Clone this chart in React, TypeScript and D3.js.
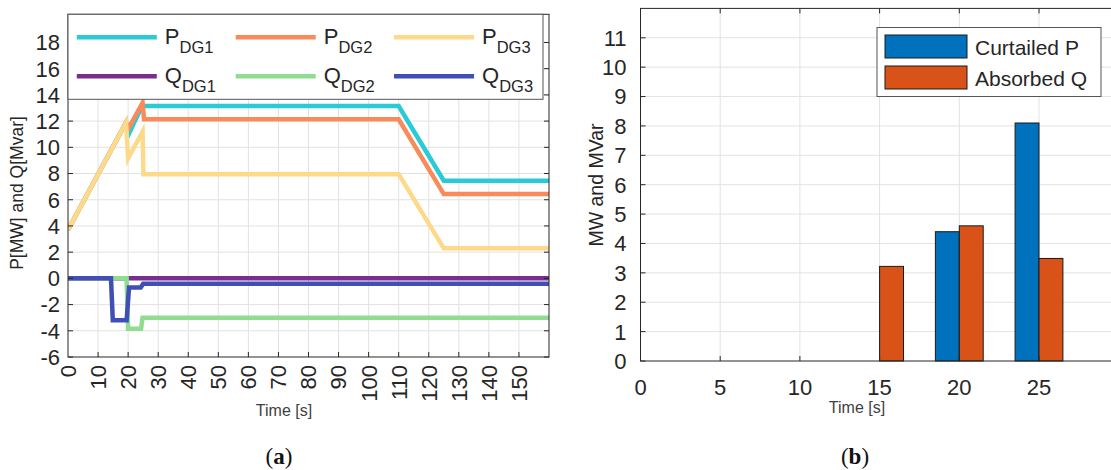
import React from 'react';
import * as d3 from 'd3';

// ---- data (a): DG power outputs over time ----
const tP1 = [0, 19.3, 20, 24.6, 110, 125, 160];
const pDG1 = [3.7, 11.9, 10.9, 13.15, 13.15, 7.45, 7.45];
const tP2 = [0, 19.3, 20, 24.8, 25.3, 110, 125, 160];
const pDG2 = [3.7, 11.9, 11.4, 13.4, 12.14, 12.14, 6.43, 6.43];
const tP3 = [0, 19.3, 20, 24.8, 25.1, 110, 125, 160];
const pDG3 = [3.7, 11.9, 9.15, 11.2, 7.95, 7.95, 2.29, 2.29];
const tQ1 = [0, 160];
const qDG1 = [0, 0];
const tQ2 = [0, 19.5, 20, 24.3, 24.8, 160];
const qDG2 = [0, 0, -3.85, -3.85, -3.0, -3.0];
const tQ3 = [0, 14.3, 14.9, 19.5, 20.3, 24.2, 25, 160];
const qDG3 = [0, 0, -3.2, -3.2, -0.7, -0.7, -0.42, -0.42];

const seriesNames = ['P', 'P', 'P', 'Q', 'Q', 'Q'];
const seriesSubs = ['DG1', 'DG2', 'DG3', 'DG1', 'DG2', 'DG3'];
const seriesColors = ['#29CCD6', '#F98B5A', '#FDDA8A', '#7B2D8E', '#90DC91', '#3F4FB5'];

const xTicksA = d3.range(0, 151, 10);
const yTicksA = d3.range(-6, 19, 2);

// ---- data (b): curtailed P / absorbed Q ----
const barTimes = [15, 20, 25];
const curtailedP = [0, 4.4, 8.1];
const absorbedQ = [3.22, 4.6, 3.49];
const barLabels = ['Curtailed P', 'Absorbed Q'];
const barColors = ['#0072BD', '#D95319'];
const xTicksB = [0, 5, 10, 15, 20, 25];
const yTicksB = d3.range(0, 12, 1);

const FONT = '"Liberation Sans", Arial, sans-serif';
const SERIF = '"Liberation Serif", "DejaVu Serif", serif';
const INK = '#262626';
const GRID = '#e2e2e2';

export default function App() {
  // panel (a)
  const xA = d3.scaleLinear().domain([0, 160]).range([68, 549]);
  const yA = d3.scaleLinear().domain([-6, 20.15]).range([357, 14.3]);
  const line = d3.line<[number, number]>().x(d => xA(d[0])).y(d => yA(d[1]));
  const series = [
    [tP1, pDG1], [tP2, pDG2], [tP3, pDG3], [tQ1, qDG1], [tQ2, qDG2], [tQ3, qDG3],
  ].map(([t, v]) => t.map((tt, i) => [tt, v[i]] as [number, number]));

  // panel (b)
  const xB = d3.scaleLinear().domain([0, 30]).range([640.5, 1118.7]);
  const yB = d3.scaleLinear().domain([0, 12]).range([361, 8.4]);
  const barW = 1.5;
  const barSets = [curtailedP, absorbedQ];

  const legCols = [76.8, 235.7, 394];
  const legRows = [37.3, 76.3];

  return (
    <svg width={1111} height={470} style={{ position: 'absolute', left: 0, top: 0, background: '#fff' }} fontFamily={FONT}>
      <defs>
        <clipPath id="clipA">
          <rect x={xA(0)} y={yA(20.15)} width={xA(160) - xA(0)} height={yA(-6) - yA(20.15)} />
        </clipPath>
      </defs>

      {/* ===== panel (a) ===== */}
      <rect x={xA(0)} y={yA(20.15)} width={xA(160) - xA(0)} height={yA(-6) - yA(20.15)} fill="#fff" />
      {xTicksA.slice(1).map(t => (
        <line key={'gx' + t} x1={xA(t)} x2={xA(t)} y1={yA(-6)} y2={yA(20.15)} stroke={GRID} />
      ))}
      {yTicksA.slice(1).map(t => (
        <line key={'gy' + t} x1={xA(0)} x2={xA(160)} y1={yA(t)} y2={yA(t)} stroke={GRID} />
      ))}
      <g clipPath="url(#clipA)">
        {series.map((d, i) => (
          <path key={'s' + i} d={line(d) || ''} fill="none" stroke={seriesColors[i]} strokeWidth={4.5} strokeLinejoin="miter" />
        ))}
      </g>
      {/* ticks */}
      {xTicksA.slice(1).map(t => (
        <line key={'tx' + t} x1={xA(t)} x2={xA(t)} y1={yA(-6)} y2={yA(-6) - 5} stroke={INK} />
      ))}
      {yTicksA.map(t => (
        <g key={'ty' + t}>
          <line x1={xA(0)} x2={xA(0) + 5} y1={yA(t)} y2={yA(t)} stroke={INK} />
          <line x1={xA(160)} x2={xA(160) - 5} y1={yA(t)} y2={yA(t)} stroke={INK} />
        </g>
      ))}
      <rect x={xA(0)} y={yA(20.15)} width={xA(160) - xA(0)} height={yA(-6) - yA(20.15)} fill="none" stroke={INK} strokeWidth={1} />
      {/* tick labels */}
      {yTicksA.map(t => (
        <text key={'ly' + t} x={xA(0) - 8} y={yA(t)} dy="0.36em" textAnchor="end" fontSize={22} fill={INK}>{t}</text>
      ))}
      {xTicksA.map(t => (
        <text key={'lx' + t} transform={`translate(${xA(t)},${yA(-6) + 8}) rotate(-90)`} dy="0.36em" textAnchor="end" fontSize={22} fill={INK}>{t}</text>
      ))}
      <text x={284} y={416} textAnchor="middle" fontSize={16} fill="#404040">Time [s]</text>
      <text transform="translate(23,193) rotate(-90)" textAnchor="middle" fontSize={17.5} fill={INK}>P[MW] and Q[Mvar]</text>

      {/* legend (a) */}
      <rect x={68} y={14.3} width={475} height={85} fill="#fff" stroke="#555" strokeWidth={1} />
      {seriesColors.map((c, i) => {
        const col = i % 3;
        const row = Math.floor(i / 3);
        const lx = legCols[col];
        const ly = legRows[row];
        return (
          <g key={'leg' + i}>
            <line x1={lx} x2={lx + 80} y1={ly} y2={ly} stroke={c} strokeWidth={4.5} />
            <text x={lx + 88} y={ly + 6.5} fontSize={22} fill={INK}>
              {seriesNames[i]}
              <tspan dy={9} fontSize={16.5}>{seriesSubs[i]}</tspan>
            </text>
          </g>
        );
      })}
      <text x={279} y={464} textAnchor="middle" fontSize={23} fontFamily={SERIF} fill="#111">
        (<tspan fontWeight="bold">a</tspan>)
      </text>

      {/* ===== panel (b) ===== */}
      {xTicksB.slice(1).map(t => (
        <line key={'bgx' + t} x1={xB(t)} x2={xB(t)} y1={yB(0)} y2={yB(12)} stroke={GRID} />
      ))}
      {yTicksB.slice(1).map(t => (
        <line key={'bgy' + t} x1={xB(0)} x2={1111} y1={yB(t)} y2={yB(t)} stroke={GRID} />
      ))}
      {barSets.map((vals, s) => (
        <g key={'bs' + s}>
          {barTimes.map((t, i) => {
            const x0 = t + (s === 0 ? -barW : 0);
            return (
              <rect key={'b' + s + i} x={xB(x0)} y={yB(vals[i])} width={xB(x0 + barW) - xB(x0)} height={yB(0) - yB(vals[i])}
                fill={barColors[s]} stroke="#1a1a1a" strokeWidth={1} />
            );
          })}
        </g>
      ))}
      {xTicksB.slice(1).map(t => (
        <g key={'btx' + t}>
          <line x1={xB(t)} x2={xB(t)} y1={yB(0)} y2={yB(0) - 5} stroke={INK} />
          <line x1={xB(t)} x2={xB(t)} y1={yB(12)} y2={yB(12) + 5} stroke={INK} />
        </g>
      ))}
      {yTicksB.map(t => (
        <line key={'bty' + t} x1={xB(0)} x2={xB(0) + 5} y1={yB(t)} y2={yB(t)} stroke={INK} />
      ))}
      <rect x={xB(0)} y={yB(12)} width={xB(30) - xB(0)} height={yB(0) - yB(12)} fill="none" stroke={INK} strokeWidth={1} />
      {yTicksB.map(t => (
        <text key={'bly' + t} x={xB(0) - 14} y={yB(t)} dy="0.36em" textAnchor="end" fontSize={22} fill={INK}>{t}</text>
      ))}
      {xTicksB.map(t => (
        <text key={'blx' + t} x={xB(t)} y={395} textAnchor="middle" fontSize={22} fill={INK}>{t}</text>
      ))}
      <text x={857} y={413} textAnchor="middle" fontSize={16} fill="#404040">Time [s]</text>
      <text transform="translate(603,185) rotate(-90)" textAnchor="middle" fontSize={19.5} fill={INK}>MW and MVar</text>

      {/* legend (b) */}
      <rect x={877} y={27.5} width={224} height={69} fill="#fff" stroke="#555" strokeWidth={1} />
      {barLabels.map((lab, i) => (
        <g key={'bl' + i}>
          <rect x={885} y={35 + i * 31} width={82} height={23} fill={barColors[i]} stroke="#1a1a1a" strokeWidth={1} />
          <text x={975} y={55 + i * 31} fontSize={21} fill={INK}>{lab}</text>
        </g>
      ))}
      <text x={855} y={464} textAnchor="middle" fontSize={23} fontFamily={SERIF} fill="#111">
        (<tspan fontWeight="bold">b</tspan>)
      </text>
    </svg>
  );
}
